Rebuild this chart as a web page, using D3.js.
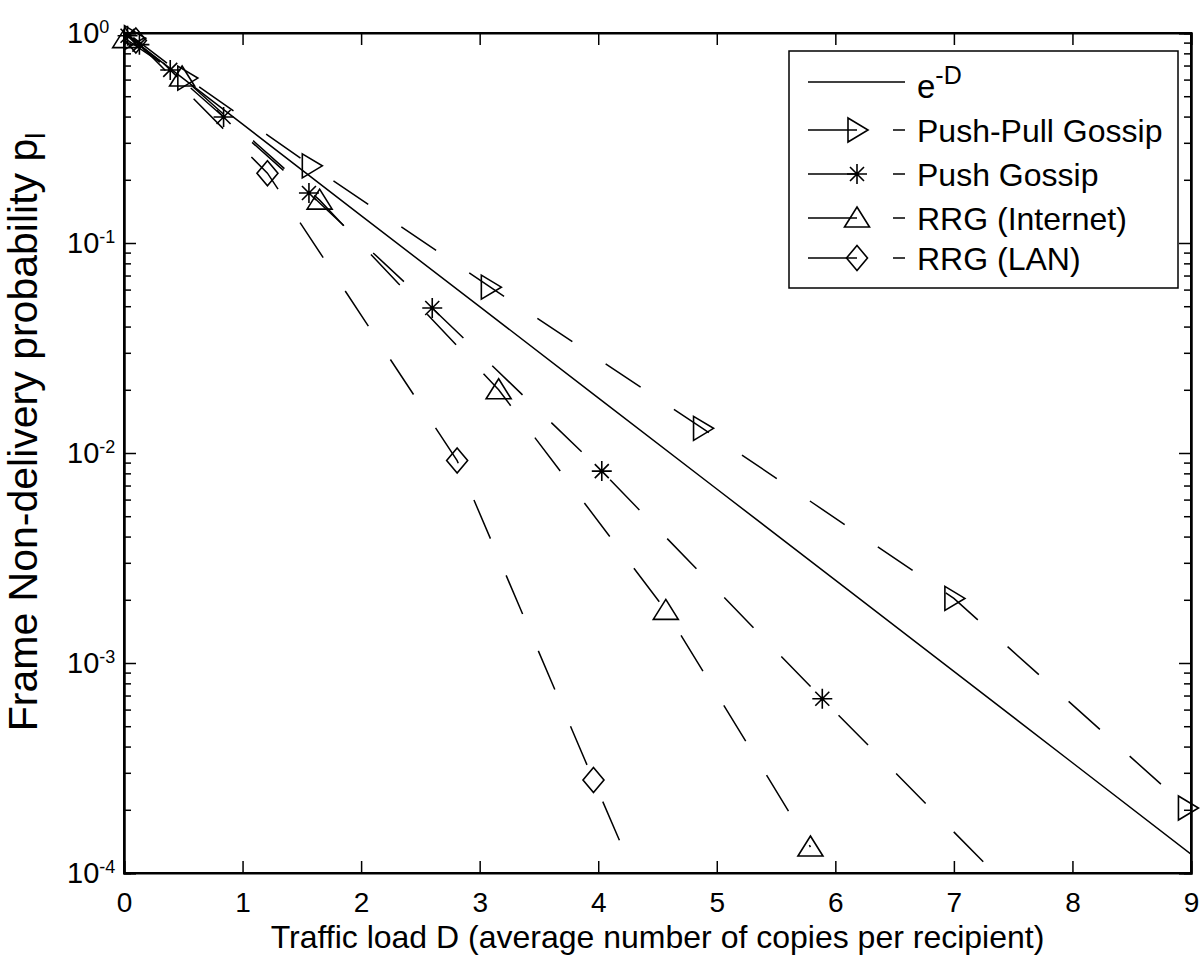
<!DOCTYPE html>
<html>
<head>
<meta charset="utf-8">
<script src="https://cdn.jsdelivr.net/npm/d3@7"></script>
<style>
body{margin:0;background:#fff}
svg text{font-family:"Liberation Sans",Arial,Helvetica,sans-serif;fill:#000}
</style>
</head>
<body>
<svg id="chart" width="1200" height="960"></svg>
<script>
// ---- data ----
var xTicks=[0,1,2,3,4,5,6,7,8,9]
var yTickExps=[0,-1,-2,-3,-4]

var expD=[0,1,2,3,4,5,6,7,8,9]
var expP=[1,0.368,0.135,0.0498,0.0183,0.00674,0.00248,0.000912,0.000335,0.000123]

var pushPullD=[0.08,0.53,1.58,3.09,4.88,7.0,8.97]
var pushPullP=[0.95,0.61,0.233,0.0616,0.0131,0.00203,0.000204]

var pushD=[0.03,0.13,0.39,0.84,1.56,2.60,4.03,5.89,8.0]
var pushP=[0.97,0.88,0.667,0.398,0.173,0.049,0.0082,0.000676,0.000042]

var rrgInetD=[0.01,0.49,1.65,3.16,4.57,5.79]
var rrgInetP=[0.94,0.617,0.16,0.020,0.00178,0.000133]

var rrgLanD=[0.1,1.21,2.81,3.96,4.8]
var rrgLanP=[0.92,0.215,0.0092,0.000277,0.000022]

var legendNames=["Push-Pull Gossip","Push Gossip","RRG (Internet)","RRG (LAN)"]

// ---- layout ----
var plotL=124, plotT=33, plotR=1191, plotB=873
var svg=d3.select("#chart")

var xScale=d3.scaleLinear().domain([0,9]).range([plotL,plotR])
var yScale=d3.scaleLog().domain([1e-4,1]).range([plotB,plotT])

function zip(a,b){ return a.map(function(d,i){ return [d,b[i]] }) }

var series=[
  {name:legendNames[0],pts:zip(pushPullD,pushPullP),marker:"tri-right"},
  {name:legendNames[1],pts:zip(pushD,pushP),marker:"star"},
  {name:legendNames[2],pts:zip(rrgInetD,rrgInetP),marker:"tri-up"},
  {name:legendNames[3],pts:zip(rrgLanD,rrgLanP),marker:"diamond"}
]

svg.append("defs").append("clipPath").attr("id","plotClip")
  .append("rect").attr("x",plotL).attr("y",plotT)
  .attr("width",plotR-plotL).attr("height",plotB-plotT)

// minor log ticks
var minorVals=[]
for(var e=-4;e<0;e++){ for(var m=2;m<10;m++){ minorVals.push(m*Math.pow(10,e)) } }
var majorVals=yTickExps.map(function(e){return Math.pow(10,e)})

// left axis (major + minor, ticks pointing inwards)
svg.append("g").attr("transform","translate("+plotL+",0)")
  .call(d3.axisLeft(yScale).tickValues(minorVals).tickSize(-7).tickFormat(""))
svg.append("g").attr("transform","translate("+plotL+",0)")
  .call(d3.axisLeft(yScale).tickValues(majorVals).tickSize(-12).tickFormat(""))
// right axis
svg.append("g").attr("transform","translate("+plotR+",0)")
  .call(d3.axisRight(yScale).tickValues(minorVals).tickSize(-7).tickFormat(""))
svg.append("g").attr("transform","translate("+plotR+",0)")
  .call(d3.axisRight(yScale).tickValues(majorVals).tickSize(-12).tickFormat(""))
// bottom & top
svg.append("g").attr("class","xaxis").attr("transform","translate(0,"+plotB+")")
  .call(d3.axisBottom(xScale).tickValues(xTicks).tickSize(-12).tickPadding(19).tickFormat(d3.format("d")))
svg.append("g").attr("transform","translate(0,"+plotT+")")
  .call(d3.axisTop(xScale).tickValues(xTicks).tickSize(-12).tickFormat(""))

svg.selectAll(".domain").attr("stroke","#000").attr("stroke-width",2)
svg.selectAll(".tick line").attr("stroke","#000").attr("stroke-width",1.5)
svg.selectAll(".xaxis text").attr("font-size","28px").attr("font-family","Liberation Sans, Arial, sans-serif").attr("fill","#000")

// y tick labels 10^n
yTickExps.forEach(function(e){
  var t=svg.append("text").attr("x",67).attr("y",yScale(Math.pow(10,e))+10)
    .attr("font-size","29px")
  t.append("tspan").text("10")
  t.append("tspan").attr("dy",-10).attr("font-size","18px").text(e===0?"0":"-"+(-e))
})

// frame box
svg.append("rect").attr("x",plotL).attr("y",plotT).attr("width",plotR-plotL).attr("height",plotB-plotT)
  .attr("fill","none").attr("stroke","#000").attr("stroke-width",2)

var plot=svg.append("g").attr("clip-path","url(#plotClip)")
var marks=svg.append("g")

var line=d3.line().x(function(d){return xScale(d[0])}).y(function(d){return yScale(d[1])})

// e^-D reference curve
plot.append("path").datum(zip(expD,expP))
  .attr("d",line).attr("fill","none").attr("stroke","#000").attr("stroke-width",1.5)

function drawMarker(g,type,x,y){
  var m=g.append("g").attr("transform","translate("+x+","+y+")")
  if(type=="tri-right") m.append("path").attr("d","M-9,-12L11,0L-9,12Z")
  else if(type=="tri-up") m.append("path").attr("d","M0,-11L12.5,9L-12.5,9Z")
  else if(type=="diamond") m.append("path").attr("d","M0,-12.5L10.5,0L0,12.5L-10.5,0Z")
  else if(type=="star"){
    m.append("path").attr("d","M-10,0L10,0M0,-10L0,10M-7,-7L7,7M-7,7L7,-7")
    m.append("circle").attr("r",2).attr("fill","#000")
  }
  m.selectAll("path").attr("fill","none").attr("stroke","#000").attr("stroke-width",1.6)
}

series.forEach(function(s){
  plot.append("path").datum(s.pts)
    .attr("d",line).attr("fill","none").attr("stroke","#000")
    .attr("stroke-width",1.5).attr("stroke-dasharray","42,40")
  // markers are not clipped at the frame (only points inside the y range)
  s.pts.forEach(function(p){
    if(p[1]>=1e-4) drawMarker(marks,s.marker,xScale(p[0]),yScale(p[1]))
  })
})

// legend
var lg=svg.append("g")
lg.append("rect").attr("x",789).attr("y",51).attr("width",389).attr("height",237)
  .attr("fill","#fff").attr("stroke","#000").attr("stroke-width",1.5)
lg.append("line").attr("x1",808).attr("x2",905).attr("y1",82).attr("y2",82)
  .attr("stroke","#000").attr("stroke-width",1.5)
var eText=lg.append("text").attr("x",917).attr("y",98).attr("font-size","33px")
eText.append("tspan").text("e")
eText.append("tspan").attr("dy",-14).attr("font-size","25px").text("-D")

var rowY=[130,174,218,258]
series.forEach(function(s,i){
  var y=rowY[i]
  lg.append("line").attr("x1",808).attr("x2",905).attr("y1",y).attr("y2",y)
    .attr("stroke","#000").attr("stroke-width",1.5).attr("stroke-dasharray","49,36")
  drawMarker(lg,s.marker,857,y)
  lg.append("text").attr("x",917).attr("y",y+12).attr("font-size","32px").text(s.name)
})

// axis titles
svg.append("text").attr("x",(plotL+plotR)/2).attr("y",948).attr("text-anchor","middle")
  .attr("font-size","32px").text("Traffic load D (average number of copies per recipient)")

var yl=svg.append("text").attr("transform","translate(37,432) rotate(-90)").attr("text-anchor","middle")
  .attr("font-size","41px")
yl.append("tspan").text("Frame Non-delivery probability p")
yl.append("tspan").attr("dy",8).attr("font-size","27px").text("l")
</script>
</body>
</html>
